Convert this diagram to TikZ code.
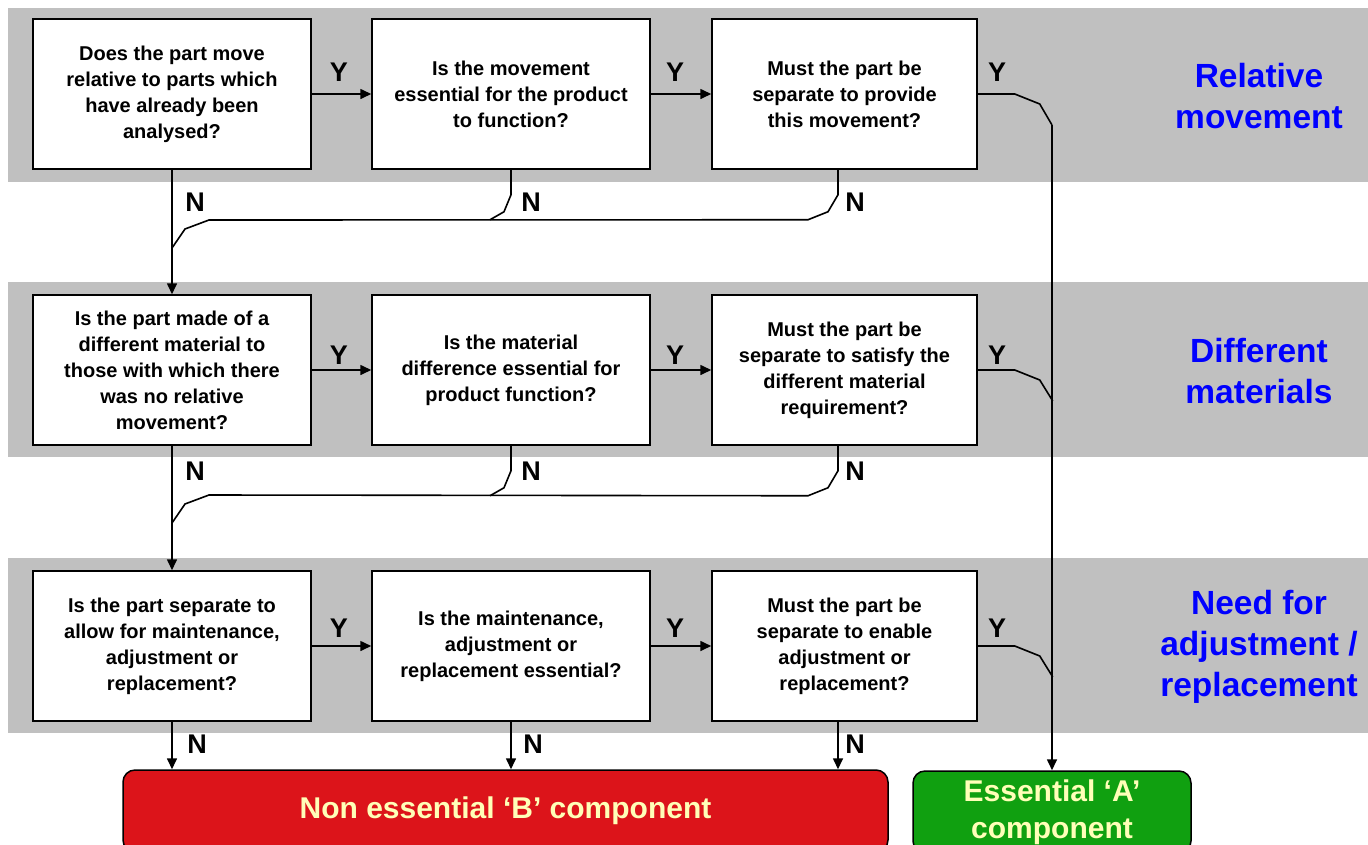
\documentclass[tikz,border=0pt]{standalone}
\usepackage{fontspec}
\setmainfont{Liberation Sans}
\usetikzlibrary{arrows.meta}
\definecolor{bandgray}{HTML}{C0C0C0}
\definecolor{rbfill}{HTML}{DC141A}
\definecolor{gbfill}{HTML}{10A010}
\definecolor{restext}{HTML}{FFFFB8}
\definecolor{cattext}{HTML}{0000FF}
\begin{document}
\begin{tikzpicture}[x=1pt,y=-1pt,
  qbox/.style={draw=black, line width=1.5pt, fill=white, minimum height=150pt,
    align=center, inner sep=0pt, font=\bfseries\fontsize{20}{26}\selectfont},
  wide/.style={minimum width=278pt},
  narrow/.style={minimum width=265pt},
  conn/.style={line width=1.6pt, draw=black},
  arr/.style={conn, -{Triangle[length=11pt,width=10pt]}},
  yn/.style={font=\bfseries\fontsize{27}{27}\selectfont, inner sep=0pt},
  cat/.style={align=center, text=cattext, font=\bfseries\fontsize{33.5}{41}\selectfont, inner sep=0pt},
  resbox/.style={draw=black, line width=1.5pt, rounded corners=12pt, minimum height=82pt,
    align=center, text=restext, inner sep=0pt, font=\bfseries\fontsize{30}{37}\selectfont}
]
\useasboundingbox (0,0) rectangle (1368,844);
\clip (0,0) rectangle (1368,844);
\fill[white] (0,0) rectangle (1368,844);
% bands
\fill[bandgray] (8,8) rectangle (1368,182);
\fill[bandgray] (8,282) rectangle (1368,457);
\fill[bandgray] (8,558) rectangle (1368,733);

% category labels
\node[cat] (cat1) at (1259,96) {Relative\\movement};
\node[cat] (cat2) at (1259,371) {Different\\materials};
\node[cat] (cat3) at (1259,647) {Need for\\adjustment /\\replacement};

% question boxes
\node[qbox,wide] (b11) at (172,94) {Does the part move\\relative to parts which\\have already been\\analysed?};
\node[qbox,wide] (b12) at (511,94) {Is the movement\\essential for the product\\to function?};
\node[qbox,narrow] (b13) at (844.5,94) {Must the part be\\separate to provide\\this movement?};

\node[qbox,wide] (b21) at (172,370) {Is the part made of a\\different material to\\those with which there\\was no relative\\movement?};
\node[qbox,wide] (b22) at (511,370) {Is the material\\difference essential for\\product function?};
\node[qbox,narrow] (b23) at (844.5,370) {Must the part be\\separate to satisfy the\\different material\\requirement?};

\node[qbox,wide] (b31) at (172,646) {Is the part separate to\\allow for maintenance,\\adjustment or\\replacement?};
\node[qbox,wide] (b32) at (511,646) {Is the maintenance,\\adjustment or\\replacement essential?};
\node[qbox,narrow] (b33) at (844.5,646) {Must the part be\\separate to enable\\adjustment or\\replacement?};

% result boxes
\node[resbox, fill=rbfill, minimum width=765pt] (red) at (505.5,811) {Non essential ‘B’ component};
\node[resbox, fill=gbfill, minimum width=278pt] (green) at (1052,812) {Essential ‘A’\\component};

% Y arrows
\draw[arr] (b11.east) -- (b12.west);
\draw[arr] (b12.east) -- (b13.west);
\draw[arr] (b21.east) -- (b22.west);
\draw[arr] (b22.east) -- (b23.west);
\draw[arr] (b31.east) -- (b32.west);
\draw[arr] (b32.east) -- (b33.west);

% Y exits to essential
\coordinate (yj1) at (1052,125);
\draw[conn] (b13.east) -- ++(37,0) -- ++(25,10) -- (yj1);
\draw[conn] (b23.east) -- ++(37,0) -- ++(25,10) -- ++(13,21);
\draw[conn] (b33.east) -- ++(37,0) -- ++(25,10) -- ++(13,21);
\draw[arr] (yj1) -- (green.north);

% N paths row 1
\draw[arr] (b11.south) -- (b21.north);
\draw[conn] ([xshift=-6.5pt]b13.south) -- ++(0,25) -- ++(-10,17) -- ++(-20,8)
  -- (209,220) -- (185,229) -- (172,248);
\draw[conn] (b12.south) -- ++(0,25) -- ++(-7,17) -- ++(-14,8);

% N paths row 2
\draw[arr] (b21.south) -- (b31.north);
\draw[conn] ([xshift=-6.5pt]b23.south) -- ++(0,25) -- ++(-10,17) -- ++(-20,8)
  -- (209,495) -- (185,504) -- (172,523);
\draw[conn] (b22.south) -- ++(0,25) -- ++(-7,17) -- ++(-14,8);

% N paths row 3
\draw[arr] (b31.south) -- (b31.south |- red.north);
\draw[arr] (b32.south) -- (b32.south |- red.north);
\draw[arr] ([xshift=-6.5pt]b33.south) -- ([xshift=-6.5pt]b33.south |- red.north);

% Y labels
\node[yn] (y11) at (339,72) {Y};
\node[yn] (y12) at (675,72) {Y};
\node[yn] (y13) at (997,72) {Y};
\node[yn] (y21) at (339,355) {Y};
\node[yn] (y22) at (675,355) {Y};
\node[yn] (y23) at (997,355) {Y};
\node[yn] (y31) at (339,628) {Y};
\node[yn] (y32) at (675,628) {Y};
\node[yn] (y33) at (997,628) {Y};

% N labels
\node[yn] (n11) at (195,202) {N};
\node[yn] (n12) at (531,202) {N};
\node[yn] (n13) at (855,202) {N};
\node[yn] (n21) at (195,471) {N};
\node[yn] (n22) at (531,471) {N};
\node[yn] (n23) at (855,471) {N};
\node[yn] (n31) at (197,744) {N};
\node[yn] (n32) at (533,744) {N};
\node[yn] (n33) at (855,744) {N};
\end{tikzpicture}
\end{document}
